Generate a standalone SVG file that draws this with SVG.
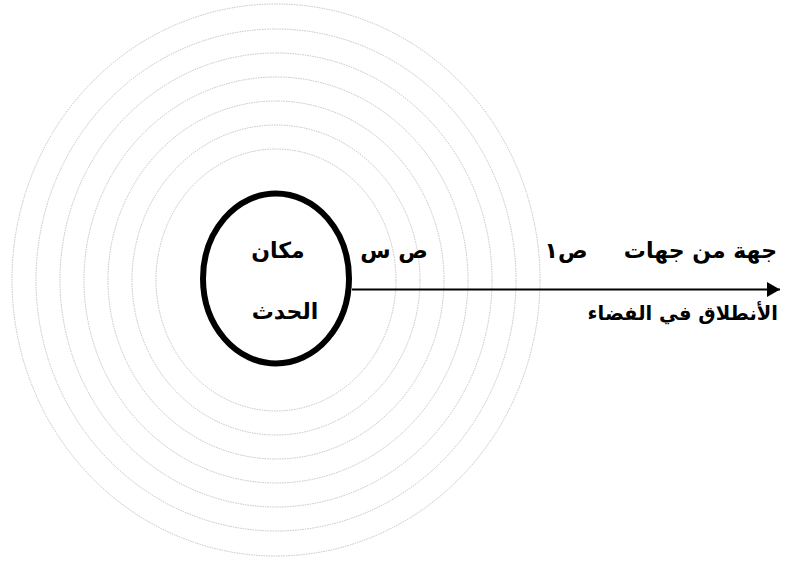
<svg xmlns="http://www.w3.org/2000/svg" width="790" height="562" viewBox="0 0 790 562">
<style>
.ring{fill:none;stroke:#ababab;stroke-width:0.7;stroke-dasharray:1.5 1}
.lbl{font-family:"DejaVu Sans",sans-serif;font-weight:bold;font-size:22px;fill:#000}
</style>
<defs>
<marker id="ah" markerUnits="userSpaceOnUse" markerWidth="14" markerHeight="16" refX="13" refY="8" orient="auto">
<path d="M0,0.5 L13,8 L0,15.5 Z" fill="#000"/>
</marker>
</defs>
<rect width="790" height="562" fill="#fff"/>
<g id="waves">
<ellipse class="ring" cx="276" cy="280" rx="120" ry="131"/>
<ellipse class="ring" cx="276" cy="280" rx="144" ry="155"/>
<ellipse class="ring" cx="276" cy="280" rx="168" ry="179"/>
<ellipse class="ring" cx="276" cy="280" rx="192" ry="203"/>
<ellipse class="ring" cx="276" cy="280" rx="216" ry="227"/>
<ellipse class="ring" cx="276" cy="280" rx="240" ry="251"/>
<ellipse class="ring" cx="276" cy="280" rx="264" ry="276"/>
</g>
<g id="connectors">
<line x1="352" y1="289.5" x2="780" y2="289.5" stroke="#000" stroke-width="2" marker-end="url(#ah)"/>
</g>
<g id="event">
<ellipse cx="276" cy="278.5" rx="73" ry="85" fill="none" stroke="#000" stroke-width="6"/>
<text class="lbl" x="278" y="258" text-anchor="middle" direction="rtl">مكان</text>
<text class="lbl" x="285" y="319" text-anchor="middle" direction="rtl">الحدث</text>
</g>
<g id="labels">
<text class="lbl" x="394" y="258" text-anchor="middle" direction="rtl">ص س</text>
<text class="lbl" x="777" y="258" text-anchor="start" direction="rtl">جهة من جهات</text>
<text class="lbl" x="566" y="258" text-anchor="middle" direction="rtl">ص١</text>
<text class="lbl" x="778" y="320" text-anchor="start" direction="rtl" style="font-size:19.5px">الأنطلاق في الفضاء</text>
</g>
</svg>
